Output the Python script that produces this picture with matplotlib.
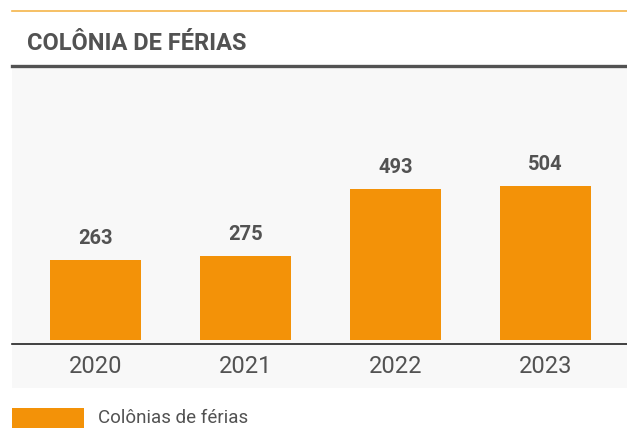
import matplotlib.pyplot as plt
from matplotlib.patches import Rectangle
from matplotlib.lines import Line2D

# data
years = ["2020", "2021", "2022", "2023"]
values = [263, 275, 493, 504]

title = "COLÔNIA DE FÉRIAS"
legend_label = "Colônias de férias"

orange = "#F39208"
gray_text = "#525252"

W, H = 627, 428
fig = plt.figure(figsize=(W / 100, H / 100), dpi=100)
fig.patch.set_facecolor("white")


def fx(px):
    return px / W


def fy(py):
    return 1 - py / H


# top accent line, title and the dark rule under it
fig.add_artist(Line2D([fx(12), 1], [fy(11), fy(11)], color="#F5B54A", lw=1.2))
fig.text(fx(27), fy(44), title, fontsize=17, fontweight="bold",
         color=gray_text, family="Roboto", va="center", ha="left")
fig.add_artist(Line2D([fx(12), 1], [fy(65.5), fy(65.5)], color=gray_text, lw=2.4))

# light panel behind the chart
fig.add_artist(Rectangle((fx(12), fy(388)), fx(615), fy(67) - fy(388),
                         facecolor="#F8F8F8", edgecolor="none", zorder=0))

# chart axes
ax = fig.add_axes([fx(12), fy(344), fx(615), fy(67) - fy(344)])
ax.set_facecolor("none")
x = list(range(len(years)))
bars = ax.bar(x, values, width=91 / 150, color=orange)
ax.set_xlim(-83.5 / 150, (615 - 83.5) / 150)
ax.set_ylim(-13.1, 893)

for xi, v in zip(x, values):
    ax.annotate(str(v), (xi, v), xytext=(0, 15.5), textcoords="offset points",
                ha="center", va="center", fontsize=14.5, fontweight="bold",
                color=gray_text, family="Roboto")

ax.set_xticks(x)
ax.set_xticklabels(years, fontsize=17, color=gray_text, family="Roboto")
ax.tick_params(axis="x", length=0, pad=8)
ax.set_yticks([])
for s in ["top", "right", "left"]:
    ax.spines[s].set_visible(False)
ax.spines["bottom"].set_color("#222222")
ax.spines["bottom"].set_linewidth(1.2)

# legend
fig.add_artist(Rectangle((fx(12), fy(428)), fx(72), fy(408) - fy(428),
                         facecolor=orange, edgecolor="none"))
fig.text(fx(98), fy(418), legend_label, fontsize=13.5, color=gray_text,
         family="Roboto", va="center", ha="left")

fig.savefig("out.png", dpi=100)
